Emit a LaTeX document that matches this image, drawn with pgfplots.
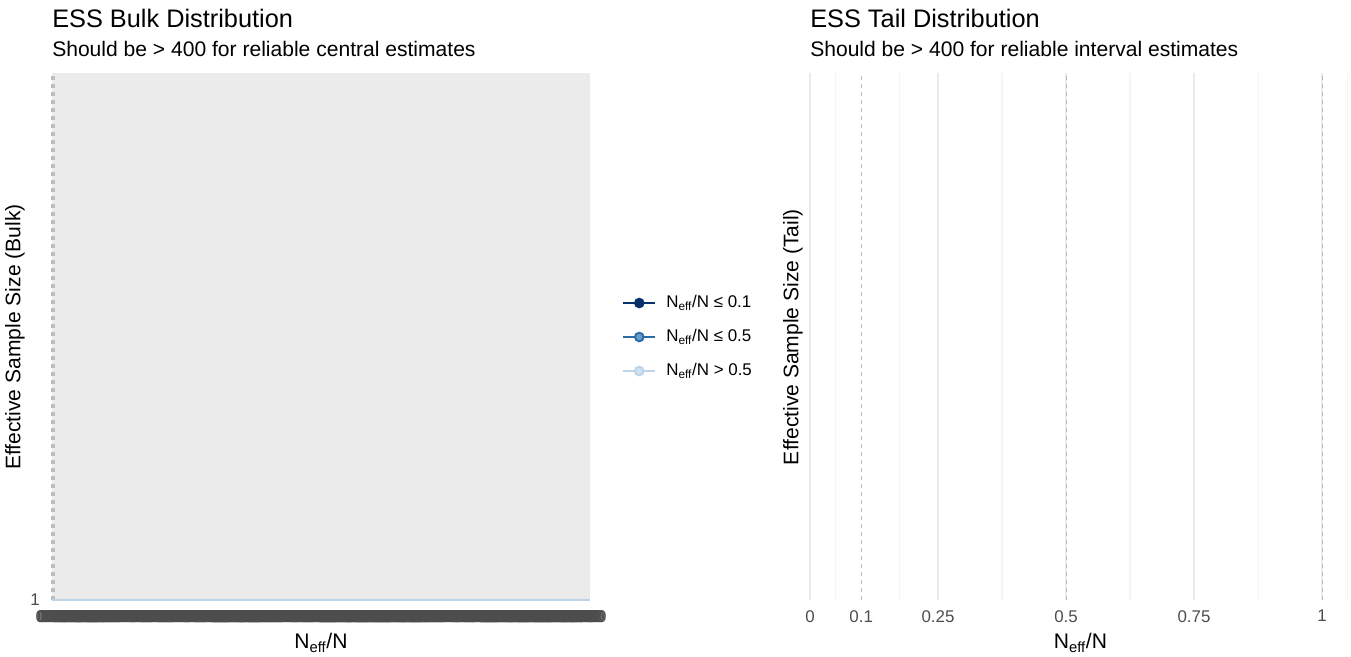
\documentclass[border=0pt]{standalone}
\usepackage{fontspec}
\setmainfont{Liberation Sans}
\usepackage{pgfplots}
\pgfplotsset{compat=1.18}

\definecolor{panelgray}{HTML}{EBEBEB}
\definecolor{tickgray}{HTML}{4D4D4D}
\definecolor{gridmajor}{HTML}{EBEBEB}
\definecolor{gridminor}{HTML}{F4F4F4}
\definecolor{refgray}{HTML}{BDBDBD}
\definecolor{bluedark}{HTML}{08306B}
\definecolor{bluemid}{HTML}{2B6BA6}
\definecolor{bluemidfill}{HTML}{6A9FCB}
\definecolor{bluelight}{HTML}{BBD4EA}
\definecolor{bluelightfill}{HTML}{D0E1F1}

\pgfplotsset{
  essbase/.style={
    scale only axis, anchor=south west,
    height=395.25pt,
    axis line style={draw=none},
    tick style={draw=none}, major tick length=0pt, minor tick length=0pt,
    /pgf/number format/assume math mode=true,
    ticklabel style={font=\fontsize{12.7}{15}\selectfont, text=tickgray},
    xticklabel style={anchor=north, inner sep=0pt, yshift=-7.5pt},
    label style={font=\fontsize{15.8}{18}\selectfont},
    xlabel={N\textsubscript{eff}/N},
    xlabel style={at={(axis description cs:0.5,-0.0911)}, anchor=base},
    title style={at={(axis description cs:0,1.0855)}, anchor=base west,
      yshift=-6pt, inner sep=0pt, font=\fontsize{19}{22}\selectfont},
  },
  subtitle/.style={
    after end axis/.append code={
      \node[anchor=base west, inner sep=0pt, font=\fontsize{15.8}{18}\selectfont]
        at (rel axis cs:0,1.0304) {#1};
    }
  },
}

\begin{document}
\begin{tikzpicture}
\path (0pt,0pt) rectangle (1013.25pt,492pt);

% Bulk panel
\begin{axis}[essbase,
  at={(39pt,42pt)}, width=403.5pt,
  xmin=0, xmax=1, ymin=1, ymax=2,
  clip=false,
  axis background/.style={fill=panelgray},
  xtick={0,0.0025,...,1},
  xticklabel={\pgfmathprintnumber[fixed,zerofill,precision=2,assume math mode=true]{\tick}},
  ytick={1},
  yticklabel style={anchor=east, inner sep=0pt, xshift=-9pt},
  ylabel={Effective Sample Size (Bulk)},
  ylabel style={at={(axis description cs:-0.0688,0.499)}, anchor=center},
  title={ESS Bulk Distribution},
  subtitle={Should be > 400 for reliable central estimates},
  legend style={at={(axis description cs:1.0595,0.499)}, anchor=west,
    draw=none, fill=none, inner sep=0pt, row sep=13pt,
    font=\fontsize{12.7}{15}\selectfont,
    nodes={inner sep=0pt, text height=9.5pt, text depth=3pt},
    /tikz/every odd column/.append style={column sep=7.5pt}},
  legend cell align=left,
  legend image code/.code={
    \draw[mark repeat=2,mark phase=2,#1] plot coordinates {(0pt,0pt) (12pt,0pt) (24pt,0pt)};
  },
]
\addplot[forget plot, draw=refgray, line width=2.4pt, dash pattern=on 3pt off 3pt]
  coordinates {(0.002,1) (0.002,2)};
\addplot[forget plot, draw=bluelight, line width=1.6pt]
  coordinates {(0,1) (1,1)};

\addlegendimage{draw=bluedark, line width=1.5pt, mark=*, mark size=3.2pt,
  mark options={fill=bluedark, draw=bluedark}}
\addlegendentry{N\textsubscript{eff}/N ≤ 0.1}
\addlegendimage{draw=bluemid, line width=1.5pt, mark=*, mark size=3.2pt,
  mark options={fill=bluemidfill, draw=bluemid}}
\addlegendentry{N\textsubscript{eff}/N ≤ 0.5}
\addlegendimage{draw=bluelight, line width=1.5pt, mark=*, mark size=3.2pt,
  mark options={fill=bluelightfill, draw=bluelight}}
\addlegendentry{N\textsubscript{eff}/N > 0.5}
\end{axis}

% Tail panel
\begin{axis}[essbase,
  at={(607.5pt,42pt)}, width=405.75pt,
  xmin=0, xmax=1.0566, ymin=0, ymax=1,
  ytick=\empty,
  xtick={0,0.25,0.5,0.75,1},
  extra x ticks={0.1}, extra x tick style={grid=none},
  minor xtick={0.05,0.175,0.375,0.625,0.875,1.05},
  xmajorgrids, xminorgrids,
  major grid style={draw=gridmajor, line width=1.1pt},
  minor grid style={draw=gridminor, line width=0.8pt},
  ylabel={Effective Sample Size (Tail)},
  ylabel style={at={(axis description cs:-0.0314,0.499)}, anchor=center},
  title={ESS Tail Distribution},
  subtitle={Should be > 400 for reliable interval estimates},
]
\addplot[draw=refgray, line width=0.75pt, dash pattern=on 3pt off 3pt]
  coordinates {(0.1,0) (0.1,1)};
\addplot[draw=refgray, line width=0.75pt, dash pattern=on 3pt off 3pt]
  coordinates {(0.5,0) (0.5,1)};
\addplot[draw=refgray, line width=0.75pt, dash pattern=on 3pt off 3pt]
  coordinates {(1,0) (1,1)};
\end{axis}
\end{tikzpicture}
\end{document}
